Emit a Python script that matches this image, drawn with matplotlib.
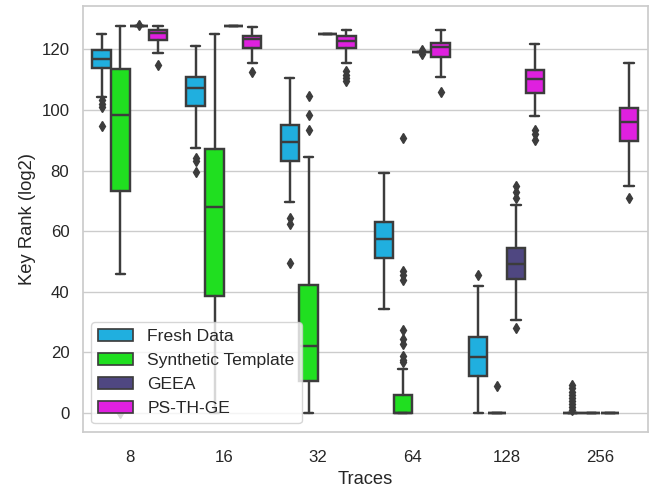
import matplotlib
matplotlib.use("Agg")
import matplotlib.pyplot as plt
import seaborn as sns

# box stats per series, one tuple per trace count:
# (whisker low, q1, median, q3, whisker high); None = no box
traces = ["8", "16", "32", "64", "128", "256"]
series = ["Fresh Data", "Synthetic Template", "GEEA", "PS-TH-GE"]
base_colors = ["deepskyblue", "lime", "darkslateblue", "magenta"]

fresh_stats = [(104.3, 113.8, 116.7, 119.7, 125.2),
               (87.6, 101.3, 107.3, 110.9, 121.3),
               (69.7, 83.2, 89.5, 95.2, 110.7),
               (34.3, 51.1, 57.3, 63.1, 79.2),
               (0.0, 12.1, 18.5, 25.0, 41.7),
               (0.0, 0.0, 0.0, 0.0, 0.0)]
fresh_fliers = [[103.2, 102.0, 101.0, 94.8],
                [84.0, 83.0, 79.6],
                [64.3, 62.5, 49.4],
                [],
                [45.6],
                [9, 8, 7, 6, 5, 4, 3, 2, 1]]

synth_stats = [(45.9, 73.3, 98.5, 113.7, 127.9),
               (0.0, 38.4, 68.1, 87.0, 125.0),
               (0.0, 10.4, 22.2, 42.3, 84.6),
               (0.0, 0.0, 0.0, 6.0, 14.3),
               (0.0, 0.0, 0.0, 0.0, 0.0),
               (0.0, 0.0, 0.0, 0.0, 0.0)]
synth_fliers = [[0.0],
                [],
                [104.5, 98.5, 93.3],
                [90.8, 46.8, 45.5, 43.8, 27.4, 24.5, 22.8, 18.7, 17.5, 16.8],
                [8.8],
                []]

geea_stats = [(127.7, 127.7, 127.7, 127.7, 127.7),
              (127.6, 127.6, 127.6, 127.6, 127.6),
              (125.0, 125.0, 125.0, 125.0, 125.0),
              (119.1, 119.1, 119.1, 119.1, 119.1),
              (30.5, 44.2, 49.1, 54.4, 68.7),
              (0.0, 0.0, 0.0, 0.0, 0.0)]
geea_fliers = [[128.0],
               [],
               [],
               [118.5, 119.7],
               [75.0, 72.8, 70.8, 28.0],
               []]

psth_stats = [(118.9, 123.2, 125.5, 126.6, 127.6),
              (115.5, 120.5, 123.3, 124.6, 127.4),
              (115.6, 120.6, 122.8, 124.6, 126.3),
              (110.9, 117.5, 120.8, 122.2, 126.5),
              (98.1, 105.6, 110.1, 113.1, 121.9),
              (74.9, 89.8, 95.9, 100.8, 115.6)]
psth_fliers = [[114.8],
               [112.6],
               [112.8, 111.5, 110.5, 109.6],
               [106.0],
               [93.5, 92.2, 90.0],
               [71.0]]

sns.set_theme(style="whitegrid", font_scale=1.1)
plt.rcParams["font.family"] = ["Liberation Sans", "DejaVu Sans"]
plt.rcParams["xtick.major.pad"] = 7

fig, ax = plt.subplots(figsize=(6.51, 4.91), dpi=100)
fig.subplots_adjust(left=0.127, right=0.995, bottom=0.12, top=0.988)

colors = [sns.desaturate(c, 0.75) for c in base_colors]
gray = "#3c3c3c"
lw = 1.75
width = 0.8 / len(series)

all_stats = [fresh_stats, synth_stats, geea_stats, psth_stats]
all_fliers = [fresh_fliers, synth_fliers, geea_fliers, psth_fliers]

for i, (stats, fliers) in enumerate(zip(all_stats, all_fliers)):
    offset = -0.4 + width / 2 + i * width
    bstats = []
    pos = []
    for j, st in enumerate(stats):
        if st is None:
            continue
        lo, q1, med, q3, hi = st
        bstats.append(dict(whislo=lo, q1=q1, med=med, q3=q3, whishi=hi,
                           fliers=fliers[j]))
        pos.append(j + offset)
    ax.bxp(bstats, positions=pos, widths=width * 0.98, patch_artist=True,
           manage_ticks=False,
           boxprops=dict(facecolor=colors[i], edgecolor=gray, linewidth=lw),
           medianprops=dict(color=gray, linewidth=lw),
           whiskerprops=dict(color=gray, linewidth=lw),
           capprops=dict(color=gray, linewidth=lw),
           flierprops=dict(marker="d", markerfacecolor=gray,
                           markeredgecolor=gray, markersize=5.5))

ax.set_xticks(range(len(traces)))
ax.set_xticklabels(traces)
ax.set_xlim(-0.5, len(traces) - 0.5)
ax.xaxis.grid(False)
ax.set_xlabel("Traces")
ax.set_ylabel("Key Rank (log2)")

handles = [plt.Rectangle((0, 0), 0, 0, facecolor=c, edgecolor=gray,
                         linewidth=lw * 0.7, label=s)
           for c, s in zip(colors, series)]
ax.legend(handles=handles, loc="lower left", fontsize=12.6)

fig.savefig("out.png", dpi=100)
